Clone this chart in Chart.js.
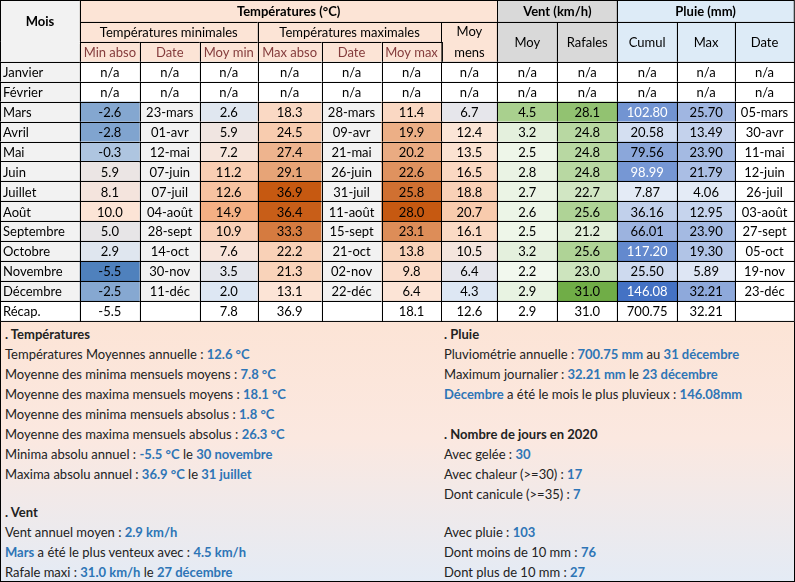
<!DOCTYPE html>
<html><head><meta charset="utf-8">
<script src="https://cdn.jsdelivr.net/npm/chart.js@4.4.0/dist/chart.umd.min.js"></script>
<style>
body{margin:0;background:#fff;font-family:Lato,"Open Sans",sans-serif;}
#wrap{position:relative;width:795px;height:582px;box-sizing:border-box;}
#tbl{position:absolute;left:0;top:0;width:795px;height:322px;}
#sum{position:absolute;left:0;top:322px;width:795px;height:260px;box-sizing:border-box;border:1px solid #000;border-top:none;
background:linear-gradient(#fce4d6 0%,#fbe8e0 45%,#e4ebf5 100%);font-size:13px;color:#222;}
.l{position:absolute;white-space:nowrap;line-height:20px}
.b{color:#2e75b6;font-weight:bold}
.h{font-weight:bold}
</style></head><body>
<div id="wrap"><div id="tbl"><canvas id="c"></canvas></div>
<div id="sum"></div></div>
<script>
const months=['Janvier','Février','Mars','Avril','Mai','Juin','Juillet','Août','Septembre','Octobre','Novembre','Décembre'];
const minAbso=[null,null,-2.6,-2.8,-0.3,5.9,8.1,10.0,5.0,2.9,-5.5,-2.5];
const minDate=[null,null,'23-mars','01-avr','12-mai','07-juin','07-juil','04-août','28-sept','14-oct','30-nov','11-déc'];
const moyMin=[null,null,2.6,5.9,7.2,11.2,12.6,14.9,10.9,7.6,3.5,2.0];
const maxAbso=[null,null,18.3,24.5,27.4,29.1,36.9,36.4,33.3,22.2,21.3,13.1];
const maxDate=[null,null,'28-mars','09-avr','21-mai','26-juin','31-juil','11-août','15-sept','21-oct','02-nov','22-déc'];
const moyMax=[null,null,11.4,19.9,20.2,22.6,25.8,28.0,23.1,13.8,9.8,6.4];
const moyMens=[null,null,6.7,12.4,13.5,16.5,18.8,20.7,16.1,10.5,6.4,4.3];
const ventMoy=[null,null,4.5,3.2,2.5,2.8,2.7,2.6,2.5,3.2,2.2,2.9];
const rafales=[null,null,28.1,24.8,24.8,24.8,22.7,25.6,21.2,25.6,23.0,31.0];
const cumul=[null,null,102.80,20.58,79.56,98.99,7.87,36.16,66.01,117.20,25.50,146.08];
const pluieMax=[null,null,25.70,13.49,23.90,21.79,4.06,12.95,23.90,19.30,5.89,32.21];
const pluieDate=[null,null,'05-mars','30-avr','11-mai','12-juin','26-juil','03-août','27-sept','05-oct','19-nov','23-déc'];
const recap=['Récap.','-5.5','','7.8','36.9','','18.1','12.6','2.9','31.0','700.75','32.21',''];
const subHeaders=['Min abso','Date','Moy min','Max abso','Date','Moy max','','Moy','Rafales','Cumul','Max','Date'];

// layout (styling only)
const colEdges=[0,80,140,200,258,322,382,442,498,558,618,678,736,795];
const rowEdges=[0,22,42,62];
const rowH=20;
const hex=h=>[parseInt(h.slice(1,3),16),parseInt(h.slice(3,5),16),parseInt(h.slice(5,7),16)];
function grad(stops,t){t=Math.max(0,Math.min(1,t));const n=stops.length-1;const i=Math.min(n-1,Math.floor(t*n));const f=t*n-i;
 const a=hex(stops[i]),b=hex(stops[i+1]);return 'rgb('+a.map((v,k)=>Math.round(v+(b[k]-v)*f)).join(',')+')';}
function scaleCol(arr,stops){const v=arr.filter(x=>x!=null);const lo=Math.min(...v),hi=Math.max(...v);return x=>grad(stops,(x-lo)/(hi-lo));}
const fmt=(v,d)=>v==null?'n/a':v.toFixed(d);
const cols=[
 {vals:minAbso,d:1,col:scaleCol(minAbso,['#4f81bd','#dce6f1','#fce4d6'])},
 {vals:minDate,txt:true,bg:'#f2f2f2'},
 {vals:moyMin,d:1,col:scaleCol(moyMin,['#dde7f3','#fce4d6','#f4b084'])},
 {vals:maxAbso,d:1,col:scaleCol(maxAbso,['#fce4d6','#f8cbad','#c65911'])},
 {vals:maxDate,txt:true,bg:'#f2f2f2'},
 {vals:moyMax,d:1,col:scaleCol(moyMax,['#fce4d6','#f8cbad','#c65911'])},
 {vals:moyMens,d:1,col:scaleCol(moyMens,['#dde7f3','#fbe5d6','#f8cbad'])},
 {vals:ventMoy,d:1,col:scaleCol(ventMoy,['#f2f8ee','#e2efda','#a9d08e'])},
 {vals:rafales,d:1,col:scaleCol(rafales,['#e2efda','#a9d08e','#70ad47'])},
 {vals:cumul,d:2,col:scaleCol(cumul,['#e4ebf6','#8ea9db','#4472c4']),white:v=>v>95},
 {vals:pluieMax,d:2,col:scaleCol(pluieMax,['#e4ebf6','#b4c6e7','#8ea9db'])},
 {vals:pluieDate,txt:true,bg:'#ffffff'}
];

const tablePlugin={id:'tbl',afterDraw(chart){
 const ctx=chart.ctx,X=chart.scales.x,Y=chart.scales.y;
 const px=v=>X.getPixelForValue(v),py=v=>Y.getPixelForValue(v);
 const F='Lato, "Open Sans", sans-serif';
 function cell(x0,x1,y0,y1,bg,text,opt={}){
  const a=px(x0),b=px(x1),c=py(y0),d=py(y1);
  ctx.fillStyle=bg;ctx.fillRect(a,c,b-a,d-c);
  ctx.strokeStyle='#000';ctx.lineWidth=1;ctx.strokeRect(Math.round(a)+0.5,Math.round(c)+0.5,b-a,d-c);
  if(text){ctx.font=(opt.bold?'bold ':'')+'13px '+F;ctx.fillStyle=opt.color||'#000';ctx.textBaseline='middle';
   if(opt.left){ctx.textAlign='left';ctx.fillText(text,a+3,(c+d)/2+1);}else{ctx.textAlign='center';ctx.fillText(text,(a+b)/2,(c+d)/2+1);}}
 }
 ctx.save();
 const E=colEdges,R=rowEdges,P='#fce4d6',G='#d9d9d9',B='#ddebf7';
 cell(E[0],E[1],R[0],R[2],'#f2f2f2','Mois',{bold:true});
 cell(E[0],E[1],R[2],R[3],'#f2f2f2','');
 ctx.fillStyle='#f2f2f2';ctx.fillRect(px(E[0])+1,py(R[2])-1,px(E[1])-px(E[0])-1,3);
 cell(E[1],E[8],R[0],R[1],P,'Températures (°C)',{bold:true});
 cell(E[8],E[10],R[0],R[1],G,'Vent (km/h)',{bold:true});
 cell(E[10],E[13],R[0],R[1],B,'Pluie (mm)',{bold:true});
 cell(E[1],E[4],R[1],R[2],P,'Températures minimales');
 cell(E[4],E[7],R[1],R[2],P,'Températures maximales');
 cell(E[7],E[8],R[1],R[3],P,'');
 ctx.font='13px '+F;ctx.fillStyle='#000';ctx.textAlign='center';
 ctx.fillText('Moy',(px(E[7])+px(E[8]))/2,py(32));ctx.fillText('mens',(px(E[7])+px(E[8]))/2,py(53));
 cell(E[8],E[9],R[1],R[3],G,'Moy');cell(E[9],E[10],R[1],R[3],G,'Rafales');
 cell(E[10],E[11],R[1],R[3],B,'Cumul');cell(E[11],E[12],R[1],R[3],B,'Max');cell(E[12],E[13],R[1],R[3],B,'Date');
 for(let i=0;i<6;i++)cell(E[i+1],E[i+2],R[2],R[3],P,subHeaders[i],{color:'#843c3c'});
 months.forEach((m,r)=>{
  const y0=R[3]+r*rowH,y1=y0+rowH;
  cell(E[0],E[1],y0,y1,'#f2f2f2',m,{left:true});
  cols.forEach((c,k)=>{
   const v=c.vals[r];let bg='#fff',t='n/a',color='#000';
   if(v!=null){if(c.txt){bg=c.bg;t=v;}else{bg=c.col(v);t=v.toFixed(c.d);if(c.white&&c.white(v))color='#fff';}}
   cell(E[k+1],E[k+2],y0,y1,bg,t,{color});
  });
 });
 const yr=R[3]+12*rowH;
 recap.forEach((t,k)=>cell(E[k],E[k+1],yr,yr+rowH,'#fff',t,{left:k===0}));
 ctx.restore();
}};
new Chart(document.getElementById('c'),{type:'scatter',data:{datasets:[{data:[]}]},
 options:{responsive:true,maintainAspectRatio:false,animation:false,layout:{padding:{left:0,right:1,top:0,bottom:1}},
 plugins:{legend:{display:false},tooltip:{enabled:false}},
 scales:{x:{type:'linear',min:0,max:795,display:false},y:{type:'linear',min:0,max:322,reverse:true,display:false}}},
 plugins:[tablePlugin]});

const lines=[
 [4,2,'<span class="h">. Températures</span>'],
 [4,22,'Températures Moyennes annuelle : <span class="b">12.6 °C</span>'],
 [4,42,'Moyenne des minima mensuels moyens : <span class="b">7.8 °C</span>'],
 [4,62,'Moyenne des maxima mensuels moyens : <span class="b">18.1 °C</span>'],
 [4,82,'Moyenne des minima mensuels absolus : <span class="b">1.8 °C</span>'],
 [4,102,'Moyenne des maxima mensuels absolus : <span class="b">26.3 °C</span>'],
 [4,122,'Minima absolu annuel : <span class="b">-5.5 °C</span> le <span class="b">30 novembre</span>'],
 [4,142,'Maxima absolu annuel : <span class="b">36.9 °C</span> le <span class="b">31 juillet</span>'],
 [4,180,'<span class="h">. Vent</span>'],
 [4,200,'Vent annuel moyen : <span class="b">2.9 km/h</span>'],
 [4,220,'<span class="b">Mars</span> a été le plus venteux avec : <span class="b">4.5 km/h</span>'],
 [4,240,'Rafale maxi : <span class="b">31.0 km/h</span> le <span class="b">27 décembre</span>'],
 [443,2,'<span class="h">. Pluie</span>'],
 [443,22,'Pluviométrie annuelle : <span class="b">700.75 mm</span> au <span class="b">31 décembre</span>'],
 [443,42,'Maximum journalier : <span class="b">32.21 mm</span> le <span class="b">23 décembre</span>'],
 [443,62,'<span class="b">Décembre</span> a été le mois le plus pluvieux : <span class="b">146.08mm</span>'],
 [443,102,'<span class="h">. Nombre de jours en 2020</span>'],
 [443,122,'Avec gelée : <span class="b">30</span>'],
 [443,142,'Avec chaleur (>=30) : <span class="b">17</span>'],
 [443,162,'Dont canicule (>=35) : <span class="b">7</span>'],
 [443,200,'Avec pluie : <span class="b">103</span>'],
 [443,220,'Dont moins de 10 mm : <span class="b">76</span>'],
 [443,240,'Dont plus de 10 mm : <span class="b">27</span>']
];
document.getElementById('sum').innerHTML=lines.map(l=>`<div class="l" style="left:${l[0]}px;top:${l[1]}px">${l[2]}</div>`).join('');
</script></body></html>
